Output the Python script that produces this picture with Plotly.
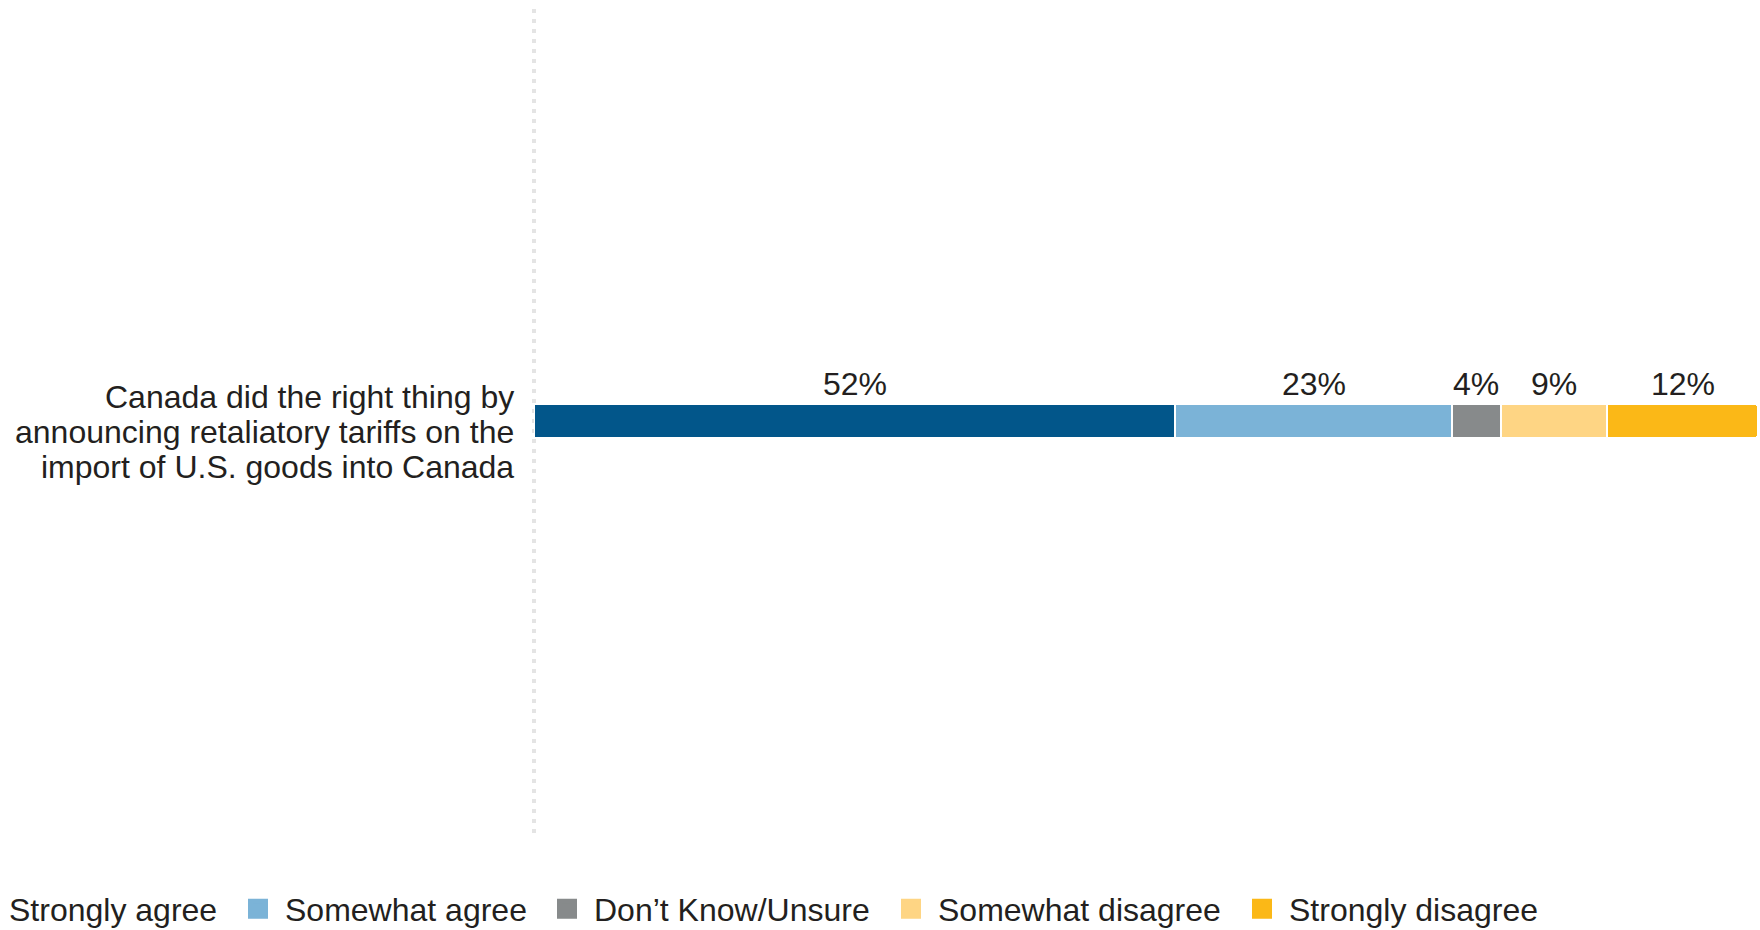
import plotly.graph_objects as go

question_lines = ["Canada did the right thing by", "announcing retaliatory tariffs on the", "import of U.S. goods into Canada"]
question = ["<br>".join(question_lines)]
series_names = ["Strongly agree", "Somewhat agree", "Don\u2019t Know/Unsure", "Somewhat disagree", "Strongly disagree"]
series_values = [52.4, 22.6, 4.0, 8.7, 12.3]
value_labels = ["52%", "23%", "4%", "9%", "12%"]
colors = ["#02568A", "#7BB3D7", "#878A8B", "#FED584", "#FBB817"]

FONT = "Liberation Sans, Arial, sans-serif"
TXT = "#231F20"
FS = 32

W, H = 1760, 930

fig = go.Figure()
for name, v, c in zip(series_names, series_values, colors):
    fig.add_trace(go.Bar(
        y=question, x=[v], name=name, orientation="h",
        marker=dict(color=c, line=dict(color="white", width=2)),
        showlegend=False, hoverinfo="skip",
    ))

# legend entries (one legend per entry for exact spacing)
for i, (name, c) in enumerate(zip(series_names, colors)):
    first = i == 0
    mc = "rgba(0,0,0,0)" if first else c
    fig.add_trace(go.Scatter(
        x=[None], y=[None], mode="markers", name="" if first else name,
        marker=dict(symbol="square", size=15, color=mc, line=dict(color=mc, width=5)),
        legend="legend" if first else f"legend{i+1}",
    ))

# value labels
cum = 0
for v, lab in zip(series_values, value_labels):
    fig.add_annotation(x=cum + v / 2, y=question[0], text=lab, showarrow=False,
                       yanchor="middle", yshift=37, font=dict(size=FS, color=TXT, family=FONT))
    cum += v

# category label (drawn line by line for tighter line spacing)
for line, ys in zip(question_lines, [24, -11, -46]):
    fig.add_annotation(x=0, xref="paper", y=question[0], text=line, showarrow=False,
                       xanchor="right", yanchor="middle", xshift=-18, yshift=ys,
                       font=dict(size=FS, color=TXT, family=FONT))

fig.add_shape(type="line", xref="paper", yref="paper", x0=0, x1=0, y0=0, y1=1,
              line=dict(color="#E4E4E4", width=4, dash="4px,6px"), layer="below")

leg_text_x = [None, 285, 594, 938, 1289]  # x of legend texts
legends = {}
for i, tx in enumerate(leg_text_x):
    key = "legend" if i == 0 else f"legend{i+1}"
    lx = 7 / W if tx is None else (tx - 54) / W
    cy = 907 if i == 0 else 909
    d = dict(
        orientation="h", xref="container", yref="container", x=lx, y=1 - cy / H,
        xanchor="left", yanchor="middle", font=dict(size=FS, color=TXT, family=FONT),
        bgcolor="rgba(0,0,0,0)", itemclick=False, itemdoubleclick=False, itemwidth=44,
    )
    if i == 0:
        d["title"] = dict(text=series_names[0], side="left", font=dict(size=FS, color=TXT, family=FONT))
    legends[key] = d

fig.update_layout(
    width=W, height=H,
    margin=dict(l=534, r=2, t=9, b=97),
    barmode="stack", bargap=1 - 34 / 824, barcornerradius=4,
    plot_bgcolor="white", paper_bgcolor="white",
    font=dict(family=FONT, color=TXT, size=FS),
    xaxis=dict(range=[0, 100], showgrid=False, zeroline=False, showticklabels=False, fixedrange=True),
    yaxis=dict(showgrid=False, zeroline=False, showticklabels=False, fixedrange=True),
    **legends,
)

fig.write_html("out.html", config={"displayModeBar": False},
               post_script="document.body.style.margin='0';document.body.style.overflow='hidden';")
